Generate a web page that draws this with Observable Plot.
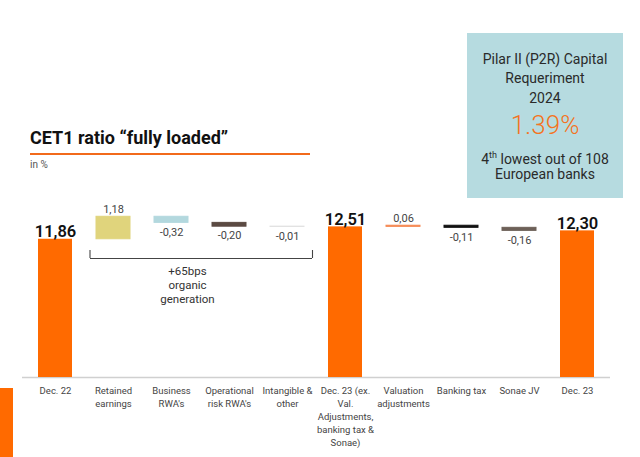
<!DOCTYPE html>
<html>
<head>
<meta charset="utf-8">
<script src="https://cdn.jsdelivr.net/npm/d3@7"></script>
<script src="https://cdn.jsdelivr.net/npm/@observablehq/plot@0.6"></script>
<style>
  html, body { margin: 0; padding: 0; background: #fff; }
  #wrap { position: relative; width: 640px; height: 457px; overflow: hidden; font-family: Roboto, "Noto Sans", sans-serif; }
  #chart { position: absolute; left: 0; top: 0; }
  .abs { position: absolute; }
  #title { left: 30px; top: 127px; font-size: 18px; font-weight: 700; color: #111; white-space: nowrap; }
  #rule { left: 30px; top: 153px; width: 280px; height: 2px; background: #f26a1b; }
  #unit { left: 30px; top: 159px; font-size: 10px; color: #555; }
  #box { left: 467px; top: 33px; width: 156px; height: 165px; background: #b6dbe0; }
  .bl { position: absolute; left: 0; width: 156px; text-align: center; font-size: 14px; line-height: 20px; color: #2a2a2a; white-space: nowrap; }
  #big { font-size: 26px; line-height: 30px; color: #f47322; font-weight: 300; }
  #stub { left: 0; top: 388px; width: 13px; height: 69px; background: #ff6a00; }
</style>
</head>
<body>
<div id="wrap">
  <div id="chart"></div>
  <div class="abs" id="title">CET1 ratio “fully loaded”</div>
  <div class="abs" id="rule"></div>
  <div class="abs" id="unit">in %</div>
  <div class="abs" id="box">
    <div class="bl" style="top:16px">Pilar II (P2R) Capital</div>
    <div class="bl" style="top:35px">Requeriment</div>
    <div class="bl" style="top:55px">2024</div>
    <div class="bl" id="big" style="top:77px">1.39%</div>
    <div class="bl" style="top:112px">4<sup style="font-size:9px">th</sup> lowest out of 108</div>
    <div class="bl" style="top:131px">European banks</div>
  </div>
  <div class="abs" id="stub"></div>
</div>
<script>
const categories = ["Dec. 22", "Retained earnings", "Business RWA's", "Operational risk RWA's", "Intangible & other",
  "Dec. 23 (ex. Val. Adjustments, banking tax & Sonae)", "Valuation adjustments", "Banking tax", "Sonae JV", "Dec. 23"];
const tickLabels = ["Dec. 22", "Retained\nearnings", "Business\nRWA's", "Operational\nrisk RWA's", "Intangible &\nother",
  "Dec. 23 (ex.\nVal.\nAdjustments,\nbanking tax &\nSonae)", "Valuation\nadjustments", "Banking tax", "Sonae JV", "Dec. 23"];
const values = [11.86, 1.18, -0.32, -0.20, -0.01, 12.51, 0.06, -0.11, -0.16, 12.30];
const isTotal = [true, false, false, false, false, true, false, false, false, true];
const barColors = ["#ff6a00", "#e0d47c", "#b3d8de", "#5b4a42", "#dedede", "#ff6a00", "#f58a55", "#111111", "#6d6058", "#ff6a00"];
const axisFloor = 4.6;
const bracketNote = "+65bps\norganic\ngeneration";
const bracketFrom = categories[1], bracketTo = categories[4];
const bracketLevels = [10.85, 11.27]; // bracket bottom, end-tick tops (in % units)
const noteLevel = 10.5;

let running = 0;
const rows = categories.map((cat, i) => {
  let y1, y2;
  if (isTotal[i]) { y1 = axisFloor; y2 = values[i]; running = values[i]; }
  else { y1 = running; y2 = running + values[i]; running = y2; }
  return { cat, value: values[i], total: isTotal[i], y1, y2, color: barColors[i] };
});
const fmt = v => v.toFixed(2).replace(".", ",");
const totals = rows.filter(d => d.total);
const pos = rows.filter(d => !d.total && d.value >= 0);
const neg = rows.filter(d => !d.total && d.value < 0);

const chart = Plot.plot({
  width: 640, height: 457,
  marginLeft: 22, marginRight: 30, marginTop: 198, marginBottom: 80,
  x: { domain: categories, paddingInner: 0.42, paddingOuter: 0.21, label: null },
  y: { domain: [axisFloor, 14], axis: null },
  color: { type: "identity" },
  style: { fontFamily: "Roboto, 'Noto Sans', sans-serif", background: "transparent", overflow: "visible" },
  marks: [
    Plot.ruleY([axisFloor], { stroke: "#d0d0d0", strokeWidth: 1.5 }),
    Plot.barY(totals, { x: "cat", y1: "y1", y2: "y2", fill: "color" }),
    Plot.barY(rows.filter(d => !d.total), { x: "cat", y1: "y1", y2: "y2", fill: "color", stroke: "color", strokeWidth: 1 }),
    Plot.text(totals, { x: "cat", y: "y2", text: d => fmt(d.value), lineAnchor: "bottom", dy: -2, fontSize: 16.5, fontWeight: 600, fill: "#111" }),
    Plot.text(pos, { x: "cat", y: "y2", text: d => fmt(d.value), lineAnchor: "bottom", dy: -4, fontSize: 11, fill: "#444" }),
    Plot.text(neg, { x: "cat", y: "y2", text: d => fmt(d.value), lineAnchor: "top", dy: 5, fontSize: 11, fill: "#444" }),
    // bracket
    Plot.ruleY([bracketLevels[0]], { x1: () => bracketFrom, x2: () => bracketTo, insetLeft: -6, insetRight: -8, stroke: "#444", strokeWidth: 1.1 }),
    Plot.ruleX([bracketFrom], { x: d => d, y1: bracketLevels[0], y2: bracketLevels[1], dx: -23.5, stroke: "#444", strokeWidth: 1.1 }),
    Plot.ruleX([bracketTo], { x: d => d, y1: bracketLevels[0], y2: bracketLevels[1], dx: 25, stroke: "#444", strokeWidth: 1.1 }),
    Plot.text([bracketNote], { x: () => categories[2], y: () => noteLevel, text: d => d, dx: 16, lineAnchor: "top", fontSize: 11.5, lineHeight: 1.22, fill: "#333" }),
    Plot.axisX({ tickSize: 0, tickPadding: 7, fontSize: 9.5, lineHeight: 1.38, lineAnchor: "top", fill: "#444",
      tickFormat: d => tickLabels[categories.indexOf(d)], label: null })
  ]
});
document.getElementById("chart").appendChild(chart);
</script>
</body>
</html>
